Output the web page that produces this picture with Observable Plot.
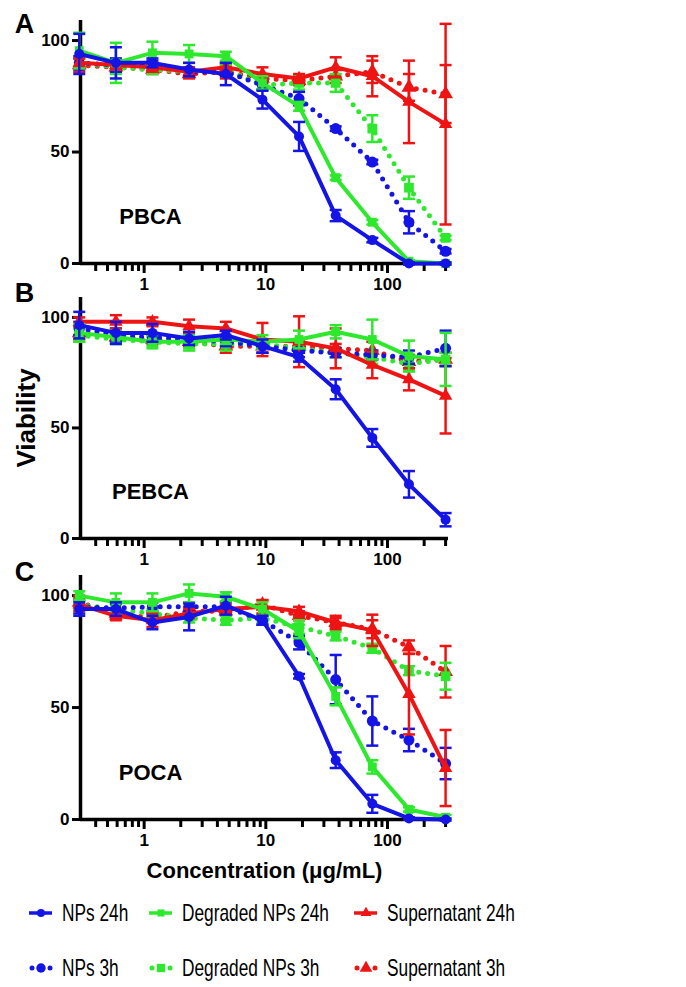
<!DOCTYPE html>
<html>
<head>
<meta charset="utf-8">
<script src="https://cdn.jsdelivr.net/npm/d3@7"></script>
<script src="https://cdn.jsdelivr.net/npm/@observablehq/plot@0.6"></script>
<style>
  html, body { margin: 0; padding: 0; background: #fff; }
  #chart { position: relative; width: 686px; height: 987px; background: #fff; overflow: hidden; }
  #chart svg.panel { position: absolute; left: 0; }
  #chart svg.panel text { font-weight: bold; }
  .leg { position: absolute; display: flex; align-items: center; white-space: nowrap; }
  .leg span { font-family: "Liberation Sans", Arial, sans-serif; font-size: 24px; color: #000; display: inline-block; transform: scaleX(0.72); transform-origin: left center; }
</style>
</head>
<body>
<div id="chart"></div>
<script>
// ---- data ----
const concentrations = [0.293, 0.586, 1.17, 2.34, 4.69, 9.38, 18.75, 37.5, 75, 150, 300];

const seriesNames = ["NPs 24h", "Degraded NPs 24h", "Supernatant 24h", "NPs 3h", "Degraded NPs 3h", "Supernatant 3h"];
const seriesColors = ["#1414e6", "#2ee82e", "#ee1414", "#1414e6", "#2ee82e", "#ee1414"];
const seriesSymbols = ["circle", "square", "triangle", "circle", "square", "triangle"];
const seriesDotted = [false, false, false, true, true, true];

const panelNames = ["PBCA", "PEBCA", "POCA"];
const panelLetters = ["A", "B", "C"];

// PBCA (A)
const pbcaNPs24 = [94, 90, 90, 87, 85, 73.5, 57, 21.5, 10.5, 0, 0];
const pbcaNPs24Err = [9, 7, 2, 3, 5, 4, 6.5, 2.5, 1, 0.5, 0.5];
const pbcaDeg24 = [95.5, 90, 94.5, 94, 93, 81, 70.5, 38.5, 18.5, 1, 0];
const pbcaDeg24Err = [8, 9, 5, 4, 2, 3, 2, 1, 1, 0.5, 0.5];
const pbcaSup24 = [90, 89, 88, 86, 88, 85, 83, 88, 84, 72.5, 62.5];
const pbcaSup24Err = [2, 2, 2, 2, 2, 3, 2, 4.5, 9, 18.5, 45];
const pbcaNPs3 = [90, 89, 89, 86, 86, 80, 74, 60.5, 45.5, 18.5, 5.5];
const pbcaNPs3Err = [3, 3, 2, 2, 2, 2, 3, 1, 1, 5, 1];
const pbcaDeg3 = [90, 88, 87, 86, 87, 80, 81, 81, 60.5, 34, 11.5];
const pbcaDeg3Err = [2, 3, 2, 2, 2, 2, 3, 4, 6, 5, 1];
const pbcaSup3 = [89, 88, 87, 85, 86, 83, 82, 84, 86, 79, 76];
const pbcaSup3Err = [3, 2, 2, 2, 3, 2, 2, 3, 5, 6, 13];

// PEBCA (B)
const pebcaNPs24 = [96.5, 93, 93, 90.5, 92, 87, 82, 67.5, 45.5, 24.5, 8.5];
const pebcaNPs24Err = [6, 5, 4, 3, 2, 3, 2, 4.5, 4, 6, 3];
const pebcaDeg24 = [93, 91, 89, 89, 90, 89, 90, 93.5, 90, 82.5, 81];
const pebcaDeg24Err = [4, 3, 3, 3, 2, 3, 4, 3, 9, 7, 12];
const pebcaSup24 = [98, 98, 98, 96, 95, 90, 89, 86, 78.5, 72, 64.5];
const pebcaSup24Err = [2, 3, 2, 3, 3, 7.5, 11.5, 9, 6, 5, 17];
const pebcaNPs3 = [95, 92, 91, 90, 89, 87, 85, 84, 83, 82, 86];
const pebcaNPs3Err = [3, 3, 2, 2, 2, 3, 3, 2, 2, 3, 8];
const pebcaDeg3 = [92, 90, 89, 88, 88, 88, 86, 84, 82, 79, 81];
const pebcaDeg3Err = [3, 2, 2, 3, 3, 2, 2, 2, 3, 3, 3];
const pebcaSup3 = [93, 91, 90, 89, 87, 87, 87, 86, 85, 80, 81];
const pebcaSup3Err = [3, 2, 2, 2, 3, 3, 3, 2, 4, 3, 3];

// POCA (C)
const pocaNPs24 = [94, 94, 88, 90.5, 95.5, 89, 64, 26.5, 7, 0.5, 0];
const pocaNPs24Err = [3, 3, 3, 6, 4, 2, 1, 3.5, 4, 0.5, 0.5];
const pocaDeg24 = [100, 97, 97, 101, 99.5, 94, 84, 55, 23.5, 4.5, 1];
const pocaDeg24Err = [2, 4, 4, 4, 2, 3, 3, 4, 3, 1, 1];
const pocaSup24 = [96, 91, 89, 92, 94, 95, 93, 88, 84.5, 56, 23];
const pocaSup24Err = [3, 2, 3, 2, 2, 3, 2, 3, 7, 18, 17];
const pocaNPs3 = [95, 94.5, 95, 95, 95, 89, 79, 62.5, 44, 35.5, 25];
const pocaNPs3Err = [3, 2, 2, 2, 2, 2, 3, 11, 11, 5, 7];
const pocaDeg3 = [96, 94, 92, 90, 89, 90, 86, 82, 76.5, 66.5, 64];
const pocaDeg3Err = [2, 2, 2, 2, 2, 2, 3, 2, 2, 2, 6];
const pocaSup3 = [97, 92, 90, 93, 93, 96, 91, 88, 85, 77, 66];
const pocaSup3Err = [3, 2, 2, 2, 2, 2, 2, 2, 4, 3, 11.5];

// axis ticks
const xDomain = [0.3, 317];
const yDomain = [0, 109];
const xMajorTicks = [1, 10, 100];
const xMinorTicks = [0.4, 0.5, 0.6, 0.7, 0.8, 0.9, 2, 3, 4, 5, 6, 7, 8, 9, 20, 30, 40, 50, 60, 70, 80, 90, 200, 300];
const yTicks = [0, 50, 100];
const xLabel = "Concentration (\u03bcg/mL)";
const yLabel = "Viability";

// ---- build tables ----
const panelSeries = [
  [[pbcaNPs24, pbcaNPs24Err], [pbcaDeg24, pbcaDeg24Err], [pbcaSup24, pbcaSup24Err], [pbcaNPs3, pbcaNPs3Err], [pbcaDeg3, pbcaDeg3Err], [pbcaSup3, pbcaSup3Err]],
  [[pebcaNPs24, pebcaNPs24Err], [pebcaDeg24, pebcaDeg24Err], [pebcaSup24, pebcaSup24Err], [pebcaNPs3, pebcaNPs3Err], [pebcaDeg3, pebcaDeg3Err], [pebcaSup3, pebcaSup3Err]],
  [[pocaNPs24, pocaNPs24Err], [pocaDeg24, pocaDeg24Err], [pocaSup24, pocaSup24Err], [pocaNPs3, pocaNPs3Err], [pocaDeg3, pocaDeg3Err], [pocaSup3, pocaSup3Err]]
];

const FONT = "'Liberation Sans', Arial, Helvetica, sans-serif";
const capSymbol = { draw(ctx) { ctx.moveTo(-6, 0); ctx.lineTo(6, 0); } };
const drawOrder = [5, 4, 3, 2, 1, 0];

// layout per panel (svg top, marginBottom, letter dy)
const layout = [
  { top: 0, marginBottom: 37, letterDy: 4 },
  { top: 277, marginBottom: 37, letterDy: -4 },
  { top: 555, marginBottom: 70, letterDy: -3 }
];
const plotHeights = [243, 241, 244];

function makePanel(p) {
  const L = layout[p];
  const marks = [];
  marks.push(Plot.axisX({ ticks: xMinorTicks, tickSize: 8, tickFormat: () => "", strokeWidth: 3, label: null }));
  marks.push(Plot.axisX({ ticks: xMajorTicks, tickSize: 10, tickPadding: 4, tickFormat: d => String(d), strokeWidth: 3, fontSize: 17, fontWeight: "bold", label: null }));
  marks.push(Plot.axisY({ ticks: yTicks, tickSize: 8, tickPadding: 3, strokeWidth: 3, fontSize: 17, fontWeight: "bold", label: null }));
  marks.push(Plot.ruleY([yDomain[0]], { strokeWidth: 3.5 }));
  marks.push(Plot.ruleX([xDomain[0]], { strokeWidth: 3.5 }));

  for (const s of drawOrder) {
    const [vals, errs] = panelSeries[p][s];
    const rows = concentrations.map((c, i) => ({ c, v: vals[i], e: errs[i] }));
    const col = seriesColors[s];
    marks.push(Plot.ruleX(rows, { x: "c", y1: d => d.v - d.e, y2: d => d.v + d.e, stroke: col, strokeWidth: 2.5 }));
    marks.push(Plot.dot(rows, { x: "c", y: d => d.v + d.e, symbol: capSymbol, stroke: col, strokeWidth: 2.5, fill: "none" }));
    marks.push(Plot.dot(rows, { x: "c", y: d => d.v - d.e, symbol: capSymbol, stroke: col, strokeWidth: 2.5, fill: "none" }));
    if (seriesDotted[s]) {
      marks.push(Plot.line(rows, { x: "c", y: "v", stroke: col, strokeWidth: 5, strokeDasharray: "0 9", strokeLinecap: "round" }));
      marks.push(Plot.dot(rows, { x: "c", y: "v", symbol: seriesSymbols[s], fill: col, r: 5.5 }));
    } else {
      marks.push(Plot.line(rows, { x: "c", y: "v", stroke: col, strokeWidth: 4 }));
      marks.push(Plot.dot(rows, { x: "c", y: "v", symbol: seriesSymbols[s], fill: col, r: 5 }));
    }
  }

  marks.push(Plot.text([panelNames[p]], { frameAnchor: "bottom-left", dx: 70, dy: -47, fontSize: 22, textAnchor: "middle", lineAnchor: "middle" }));
  marks.push(Plot.text([panelLetters[p]], { frameAnchor: "top-left", dx: -56, dy: L.letterDy, fontSize: 27, textAnchor: "middle", lineAnchor: "middle" }));
  if (p === 1) {
    marks.push(Plot.text([yLabel], { frameAnchor: "left", dx: -54, rotate: -90, fontSize: 26, textAnchor: "middle", lineAnchor: "middle" }));
  }
  if (p === 2) {
    marks.push(Plot.text([xLabel], { frameAnchor: "bottom", dy: 51, fontSize: 22, textAnchor: "middle", lineAnchor: "middle" }));
  }

  const svg = Plot.plot({
    width: 686,
    height: 20 + plotHeights[p] + L.marginBottom,
    marginLeft: 80,
    marginRight: 238,
    marginTop: 20,
    marginBottom: L.marginBottom,
    x: { type: "log", domain: xDomain, axis: null },
    y: { domain: yDomain, axis: null },
    style: { background: "transparent", fontFamily: FONT, fontWeight: "bold", color: "#000", overflow: "visible" },
    marks
  });
  svg.classList.add("panel");
  svg.style.top = L.top + "px";
  return svg;
}

const chart = document.getElementById("chart");
for (let p = 0; p < 3; p++) chart.appendChild(makePanel(p));

// ---- legend ----
const legendCols = [29, 149, 354];
const legendRowsY = [913, 968];
seriesNames.forEach((name, i) => {
  const col = i % 3, row = Math.floor(i / 3);
  const div = document.createElement("div");
  div.className = "leg";
  div.style.left = legendCols[col] + "px";
  div.style.top = (legendRowsY[row] - 15) + "px";
  div.style.height = "30px";
  const svg = d3.create("svg").attr("width", 24).attr("height", 16).style("margin-right", "9px").style("overflow", "visible");
  const color = seriesColors[i];
  if (seriesDotted[i]) {
    svg.append("circle").attr("cx", 3).attr("cy", 8).attr("r", 2.5).attr("fill", color);
    svg.append("circle").attr("cx", 21).attr("cy", 8).attr("r", 2.5).attr("fill", color);
  } else {
    svg.append("line").attr("x1", 0).attr("x2", 23).attr("y1", 8).attr("y2", 8).attr("stroke", color).attr("stroke-width", 3.5);
  }
  const symType = { circle: d3.symbolCircle, square: d3.symbolSquare, triangle: d3.symbolTriangle }[seriesSymbols[i]];
  svg.append("path").attr("transform", "translate(12,8)").attr("d", d3.symbol(symType, seriesDotted[i] ? 70 : 50)()).attr("fill", color);
  div.appendChild(svg.node());
  const span = document.createElement("span");
  span.textContent = name;
  div.appendChild(span);
  chart.appendChild(div);
});
</script>
</body>
</html>
